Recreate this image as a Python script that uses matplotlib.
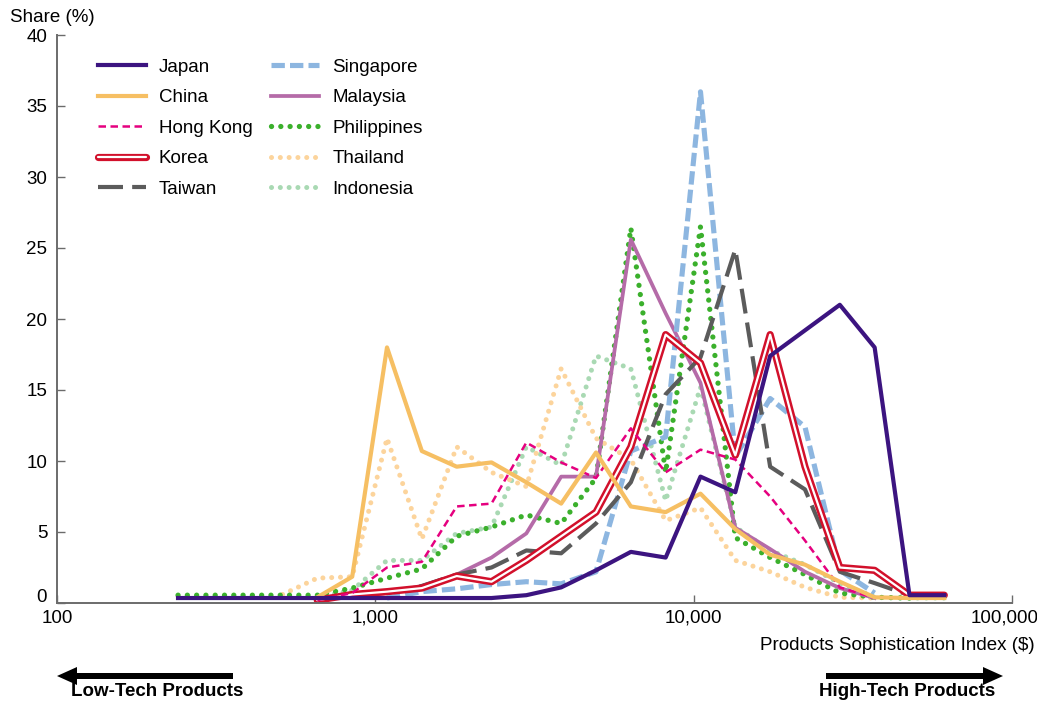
import numpy as np
import matplotlib
matplotlib.use("Agg")
import matplotlib.pyplot as plt
from matplotlib import patheffects as pe
from matplotlib.patches import FancyArrow
from matplotlib.transforms import IdentityTransform
from matplotlib.ticker import NullLocator

plt.rcParams['font.family'] = ['Liberation Sans', 'DejaVu Sans']

nan = np.nan
# Product sophistication index bins ($)
psi = [240, 309, 397, 511, 657, 846, 1088, 1400, 1801, 2317, 2981, 3835,
       4934, 6348, 8166, 10506, 13516, 17388, 22370, 28779, 37025, 47632, 61279]

japan = [0.35, 0.35, 0.35, 0.35, 0.35, 0.35, 0.35, 0.35, 0.35, 0.35, 0.55, 1.1,
         2.3, 3.6, 3.2, 8.9, 7.8, 17.4, 19.2, 21.0, 18.0, 0.55, 0.55]
china = [nan, nan, nan, nan, 0.4, 1.85, 18.0, 10.7, 9.6, 9.9, 8.5, 7.0,
         10.6, 6.8, 6.4, 7.7, 5.2, 3.4, 2.7, 1.5, 0.4, 0.35, 0.35]
hongkong = [nan, nan, nan, nan, 0.2, 0.7, 2.5, 2.9, 6.8, 7.0, 11.3, 9.9,
            8.8, 12.3, 9.2, 10.8, 10.1, 7.5, 4.4, 1.1, 0.35, nan, nan]
korea = [nan, nan, nan, nan, 0.2, 0.6, 0.8, 1.05, 1.9, 1.5, 3.0, 4.7,
         6.4, 11.0, 18.9, 16.9, 10.4, 18.9, 9.6, 2.5, 2.3, 0.55, 0.55]
taiwan = [nan, nan, nan, nan, nan, 0.4, 0.7, 1.2, 2.0, 2.5, 3.7, 3.5,
          5.6, 8.5, 14.7, 17.3, 24.9, 9.6, 8.0, 2.2, 1.4, 0.55, 0.35]
singapore = [nan, nan, nan, nan, nan, nan, 0.35, 0.8, 1.0, 1.3, 1.5, 1.35,
             2.2, 10.7, 11.7, 36.0, 10.3, 14.4, 12.4, 2.3, 0.7, nan, nan]
malaysia = [nan, nan, nan, nan, nan, 0.4, 0.7, 1.2, 2.0, 3.2, 4.9, 8.9,
            8.9, 25.6, 20.4, 15.5, 5.3, 3.8, 2.2, 1.05, 0.35, nan, nan]
philippines = [0.55, 0.55, 0.55, 0.55, 0.55, 1.05, 1.75, 2.4, 4.7, 5.35, 6.2, 5.6,
               8.8, 26.4, 9.2, 26.5, 4.6, 3.2, 2.0, 0.7, 0.4, 0.35, nan]
thailand = [nan, nan, nan, 0.6, 1.75, 1.85, 11.6, 4.5, 11.0, 9.2, 8.2, 16.5,
            11.6, 10.1, 5.8, 6.7, 3.0, 2.2, 1.1, 0.4, 0.35, nan, nan]
indonesia = [nan, nan, nan, nan, 0.4, 0.9, 3.0, 3.0, 4.9, 5.35, 11.0, 9.7,
             17.4, 16.5, 7.2, 15.2, 5.35, 3.7, 2.7, 1.4, 0.4, 0.35, 0.35]

x_ticks = [100, 1000, 10000, 100000]
x_tick_labels = ['100', '1,000', '10,000', '100,000']
y_ticks = [0, 5, 10, 15, 20, 25, 30, 35, 40]
y_tick_labels = ['0', '5', '10', '15', '20', '25', '30', '35', '40']

FS = 13.5
W, H = 1037, 703
fig = plt.figure(figsize=(W / 100, H / 100), dpi=100)
ax = fig.add_axes([57 / W, 100 / H, (1012 - 57) / W, (603 - 35) / H])

dot = (0, (0.01, 1.75))
handles = {}
handles['Indonesia'], = ax.plot(psi, indonesia, color='#A9D9B3', lw=3.6, ls=dot,
                                dash_capstyle='round', label='Indonesia')
handles['Thailand'], = ax.plot(psi, thailand, color='#FCD49C', lw=3.6, ls=dot,
                               dash_capstyle='round', label='Thailand')
handles['Philippines'], = ax.plot(psi, philippines, color='#3BB02C', lw=3.8, ls=dot,
                                  dash_capstyle='round', label='Philippines')
handles['Malaysia'], = ax.plot(psi, malaysia, color='#B56BA8', lw=2.7, label='Malaysia')
handles['Singapore'], = ax.plot(psi, singapore, color='#8DB6E0', lw=3.7,
                                ls=(0, (2.6, 1.0)), label='Singapore')
handles['Taiwan'], = ax.plot(psi, taiwan, color='#5B5B5B', lw=3.0,
                             ls=(0, (6, 2.2)), label='Taiwan')
handles['Korea'], = ax.plot(psi, korea, color='white', lw=1.6, label='Korea',
                            solid_capstyle='round',
                            path_effects=[pe.Stroke(linewidth=5.2, foreground='#D2102B'),
                                          pe.Normal()])
handles['Hong Kong'], = ax.plot(psi, hongkong, color='#E5007F', lw=1.8,
                                ls=(0, (3, 1.8)), label='Hong Kong')
handles['China'], = ax.plot(psi, china, color='#F6BF63', lw=3.0, label='China')
handles['Japan'], = ax.plot(psi, japan, color='#3C1480', lw=3.0, label='Japan')

order = ['Japan', 'China', 'Hong Kong', 'Korea', 'Taiwan',
         'Singapore', 'Malaysia', 'Philippines', 'Thailand', 'Indonesia']
ax.legend([handles[k] for k in order], order, ncol=2, loc='upper left',
          bbox_to_anchor=(0.035, 0.972), borderaxespad=0, frameon=False,
          handlelength=2.55, handletextpad=0.7, labelspacing=0.72,
          columnspacing=1.0, fontsize=FS)

ax.set_xscale('log')
ax.set_xlim(100, 100000)
ax.set_ylim(0, 40)
ax.xaxis.set_minor_locator(NullLocator())
ax.set_xticks(x_ticks, labels=x_tick_labels[:-1] + [''])
ax.set_yticks(y_ticks, labels=[''] + y_tick_labels[1:])
for s in ['top', 'right']:
    ax.spines[s].set_visible(False)
for s in ['left', 'bottom']:
    ax.spines[s].set_color('#6b6b6b')
    ax.spines[s].set_linewidth(1.4)
ax.tick_params(direction='in', length=6, width=1, colors='#6b6b6b',
               labelcolor='black', labelsize=FS)
ax.tick_params(axis='x', pad=5)
ax.tick_params(axis='y', pad=7)

# end labels nudged, as in the original layout
fig.text(1005 / W, 1 - 618 / H, x_tick_labels[-1], fontsize=FS, ha='center', va='center')
fig.text(47 / W, 1 - 597 / H, y_tick_labels[0], fontsize=FS, ha='right', va='center')

fig.text(10 / W, 1 - 18 / H, 'Share (%)', fontsize=FS, ha='left', va='center')
fig.text(1035 / W, 1 - 645 / H, 'Products Sophistication Index ($)', fontsize=FS,
         ha='right', va='center')
fig.text(157 / W, 1 - 692 / H, 'Low-Tech Products', fontsize=FS, fontweight='bold',
         ha='center', va='center')
fig.text(907 / W, 1 - 692 / H, 'High-Tech Products', fontsize=FS, fontweight='bold',
         ha='center', va='center')

ay = H - 676
fig.add_artist(FancyArrow(233, ay, 57 - 233, 0, width=6, head_width=18, head_length=20,
                          length_includes_head=True, transform=IdentityTransform(),
                          color='black', lw=0))
fig.add_artist(FancyArrow(826, ay, 1003 - 826, 0, width=6, head_width=18, head_length=20,
                          length_includes_head=True, transform=IdentityTransform(),
                          color='black', lw=0))

fig.savefig('out.png', dpi=100)
